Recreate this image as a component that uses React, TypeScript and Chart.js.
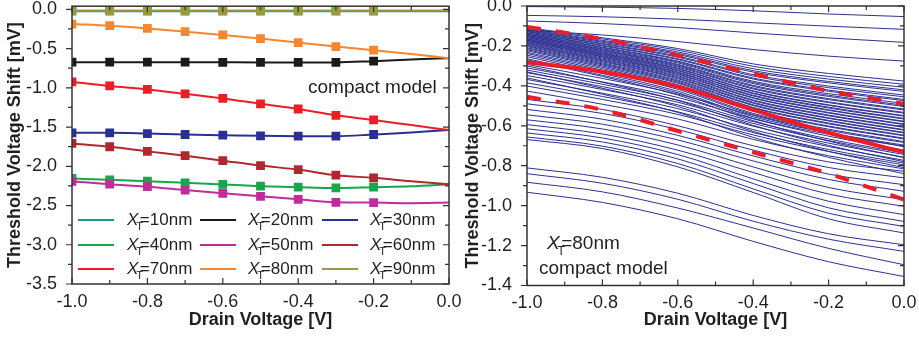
import React, { useEffect, useRef } from "react";
import { Chart, registerables } from "chart.js";
Chart.register(...registerables);

const FONT = '"Liberation Sans", Arial, Helvetica, sans-serif';
const INK = "#231f20";

// ---------- Left panel data ----------
const drainV = [-1.0, -0.9, -0.8, -0.7, -0.6, -0.5, -0.4, -0.3, -0.2, -0.1, 0.0];
const xt10 = [-0.023, -0.023, -0.023, -0.023, -0.023, -0.023, -0.023, -0.023, -0.023, -0.023, -0.023];
const xt20 = [-0.673, -0.673, -0.673, -0.674, -0.675, -0.676, -0.676, -0.676, -0.66, -0.64, -0.622];
const xt30 = [-1.574, -1.574, -1.583, -1.595, -1.603, -1.612, -1.616, -1.616, -1.595, -1.57, -1.536];
const xt40 = [-2.155, -2.172, -2.19, -2.21, -2.231, -2.253, -2.266, -2.276, -2.266, -2.255, -2.228];
const xt50 = [-2.193, -2.228, -2.26, -2.303, -2.345, -2.383, -2.421, -2.459, -2.463, -2.47, -2.463];
const xt60 = [-1.709, -1.751, -1.81, -1.865, -1.928, -1.991, -2.042, -2.114, -2.147, -2.19, -2.228];
const xt70 = [-0.925, -0.976, -1.021, -1.077, -1.135, -1.204, -1.27, -1.35, -1.41, -1.475, -1.538];
const xt80 = [-0.187, -0.209, -0.243, -0.284, -0.326, -0.373, -0.424, -0.474, -0.521, -0.57, -0.622];
const xt90 = [-0.015, -0.015, -0.015, -0.015, -0.015, -0.015, -0.015, -0.015, -0.015, -0.015, -0.015];
const leftSeries = [xt10, xt20, xt30, xt40, xt50, xt60, xt70, xt80, xt90];
const leftLegend = ["=10nm", "=20nm", "=30nm", "=40nm", "=50nm", "=60nm", "=70nm", "=80nm", "=90nm"];
const leftColors = ["#1f9b8e", "#1a1a1a", "#2b2f93", "#18a64b", "#c02c9c", "#b0282e", "#ee1c25", "#f7862e", "#9c9a3a"];

const leftXTicks = [-1.0, -0.8, -0.6, -0.4, -0.2, 0.0];
const leftXMinor = [-0.9, -0.7, -0.5, -0.3, -0.1];
const leftYTicks = [0.0, -0.5, -1.0, -1.5, -2.0, -2.5, -3.0, -3.5];
const leftYMinor = [-0.25, -0.75, -1.25, -1.75, -2.25, -2.75, -3.25];

// ---------- Right panel data ----------
const mcX = [-1.0, -0.8, -0.6, -0.4, -0.2, 0.0];
const mcRuns = [
  [-0.003, -0.006, -0.012, -0.024, -0.04, -0.053],
  [-0.047, -0.054, -0.066, -0.084, -0.101, -0.117],
  [-0.075, -0.088, -0.108, -0.135, -0.16, -0.182],
  [-0.122, -0.145, -0.178, -0.218, -0.251, -0.276],
  [-0.108, -0.159, -0.213, -0.29, -0.338, -0.376],
  [-0.112, -0.165, -0.221, -0.302, -0.353, -0.392],
  [-0.117, -0.172, -0.23, -0.314, -0.366, -0.407],
  [-0.12, -0.177, -0.237, -0.324, -0.378, -0.42],
  [-0.124, -0.182, -0.243, -0.331, -0.385, -0.428],
  [-0.127, -0.188, -0.251, -0.344, -0.401, -0.446],
  [-0.129, -0.191, -0.256, -0.351, -0.409, -0.455],
  [-0.134, -0.197, -0.264, -0.361, -0.421, -0.468],
  [-0.136, -0.2, -0.268, -0.366, -0.427, -0.474],
  [-0.14, -0.206, -0.276, -0.377, -0.439, -0.488],
  [-0.142, -0.209, -0.28, -0.383, -0.447, -0.497],
  [-0.146, -0.214, -0.285, -0.389, -0.453, -0.503],
  [-0.148, -0.218, -0.292, -0.398, -0.464, -0.516],
  [-0.152, -0.222, -0.296, -0.403, -0.469, -0.521],
  [-0.153, -0.225, -0.301, -0.411, -0.48, -0.533],
  [-0.158, -0.23, -0.306, -0.416, -0.484, -0.537],
  [-0.16, -0.234, -0.312, -0.425, -0.495, -0.549],
  [-0.164, -0.238, -0.315, -0.428, -0.498, -0.552],
  [-0.166, -0.241, -0.321, -0.436, -0.507, -0.563],
  [-0.17, -0.245, -0.324, -0.439, -0.511, -0.566],
  [-0.172, -0.249, -0.33, -0.447, -0.52, -0.577],
  [-0.176, -0.253, -0.334, -0.451, -0.523, -0.58],
  [-0.178, -0.256, -0.339, -0.459, -0.533, -0.591],
  [-0.183, -0.261, -0.343, -0.462, -0.536, -0.594],
  [-0.186, -0.266, -0.349, -0.471, -0.546, -0.605],
  [-0.191, -0.27, -0.354, -0.475, -0.55, -0.608],
  [-0.194, -0.275, -0.36, -0.483, -0.56, -0.619],
  [-0.199, -0.279, -0.364, -0.487, -0.563, -0.622],
  [-0.203, -0.285, -0.371, -0.495, -0.573, -0.633],
  [-0.209, -0.29, -0.376, -0.499, -0.576, -0.636],
  [-0.213, -0.295, -0.382, -0.508, -0.586, -0.647],
  [-0.219, -0.301, -0.387, -0.512, -0.59, -0.65],
  [-0.224, -0.307, -0.395, -0.522, -0.601, -0.662],
  [-0.232, -0.314, -0.401, -0.527, -0.605, -0.666],
  [-0.238, -0.322, -0.41, -0.538, -0.617, -0.679],
  [-0.246, -0.329, -0.417, -0.544, -0.623, -0.684],
  [-0.254, -0.338, -0.427, -0.555, -0.635, -0.697],
  [-0.264, -0.347, -0.435, -0.563, -0.642, -0.703],
  [-0.27, -0.353, -0.446, -0.574, -0.677, -0.76],
  [-0.293, -0.363, -0.441, -0.548, -0.634, -0.704],
  [-0.3, -0.382, -0.473, -0.598, -0.698, -0.78],
  [-0.31, -0.38, -0.458, -0.565, -0.652, -0.722],
  [-0.321, -0.392, -0.471, -0.579, -0.666, -0.737],
  [-0.33, -0.412, -0.503, -0.628, -0.728, -0.81],
  [-0.334, -0.404, -0.482, -0.588, -0.674, -0.744],
  [-0.348, -0.418, -0.495, -0.602, -0.687, -0.757],
  [-0.36, -0.442, -0.533, -0.658, -0.758, -0.84],
  [-0.368, -0.437, -0.514, -0.619, -0.704, -0.773],
  [-0.385, -0.453, -0.53, -0.634, -0.719, -0.787],
  [-0.401, -0.468, -0.543, -0.646, -0.729, -0.796],
  [-0.426, -0.492, -0.566, -0.668, -0.75, -0.816],
  [-0.468, -0.518, -0.6, -0.7, -0.781, -0.828],
  [-0.49, -0.538, -0.619, -0.722, -0.809, -0.861],
  [-0.518, -0.567, -0.648, -0.751, -0.842, -0.895],
  [-0.545, -0.592, -0.671, -0.776, -0.869, -0.928],
  [-0.57, -0.616, -0.696, -0.806, -0.909, -0.97],
  [-0.594, -0.641, -0.722, -0.834, -0.942, -1.003],
  [-0.615, -0.661, -0.744, -0.866, -0.978, -1.045],
  [-0.636, -0.681, -0.766, -0.889, -1.011, -1.079],
  [-0.656, -0.702, -0.789, -0.916, -1.038, -1.104],
  [-0.669, -0.714, -0.806, -0.934, -1.066, -1.137],
  [-0.811, -0.858, -0.938, -1.049, -1.141, -1.196],
  [-0.84, -0.888, -0.968, -1.078, -1.168, -1.229],
  [-0.883, -0.931, -1.012, -1.112, -1.214, -1.296],
  [-0.933, -0.984, -1.066, -1.179, -1.281, -1.355],
];
const mcMean = [-0.282, -0.329, -0.404, -0.52, -0.635, -0.732];
const mcUpper = [-0.105, -0.165, -0.248, -0.339, -0.426, -0.49];
const mcLower = [-0.455, -0.52, -0.626, -0.733, -0.84, -0.97];

const rightXTicks = [-1.0, -0.8, -0.6, -0.4, -0.2, 0.0];
const rightXMinor = [-0.9, -0.7, -0.5, -0.3, -0.1];
const rightYTicks = [0.0, -0.2, -0.4, -0.6, -0.8, -1.0, -1.2, -1.4];
const rightYMinor = [-0.1, -0.3, -0.5, -0.7, -0.9, -1.1, -1.3];

// ---------- helpers ----------
const fmt = (v: number) => (Math.abs(v) < 1e-9 ? "0.0" : v.toFixed(1));

function makeScales(opts: {
  yTicks: number[]; yMin: number; yMax: number; yWidth: number; xHeight: number;
  yTitlePad: number; xTicks: number[];
}) {
  return {
    x: {
      type: "linear",
      position: "bottom",
      min: -1,
      max: 0,
      grid: { display: false },
      border: { display: false },
      afterBuildTicks: (s: any) => { s.ticks = opts.xTicks.map((v) => ({ value: v })); },
      afterFit: (s: any) => {
        s.height = opts.xHeight;
        s.paddingLeft = 0; s.paddingRight = 0; s.paddingTop = 0; s.paddingBottom = 0;
      },
      ticks: { color: INK, font: { family: FONT, size: 18 }, padding: -1, maxRotation: 0, autoSkip: false,
        callback: (v: any) => fmt(Number(v)) },
      title: { display: true, text: "Drain Voltage [V]", color: INK,
        font: { family: FONT, size: 18, weight: "bold" }, padding: { top: 0, bottom: 9 } },
    },
    y: {
      type: "linear",
      position: "left",
      min: opts.yMin,
      max: opts.yMax,
      grid: { display: false },
      border: { display: false },
      afterBuildTicks: (s: any) => { s.ticks = opts.yTicks.map((v) => ({ value: v })); },
      afterFit: (s: any) => {
        s.width = opts.yWidth;
        s.paddingLeft = 0; s.paddingRight = 0; s.paddingTop = 0; s.paddingBottom = 0;
      },
      ticks: { color: INK, font: { family: FONT, size: 18 }, padding: 7, autoSkip: false,
        callback: (v: any) => fmt(Number(v)) },
      title: { display: true, text: "Threshold Voltage Shift [mV]", color: INK,
        font: { family: FONT, size: 18, weight: "bold" }, padding: { top: opts.yTitlePad, bottom: 0 } },
    },
  };
}

function framePlugin(xMajor: number[], xMinor: number[], yMajor: number[], yMinor: number[]) {
  return {
    id: "frameTicks",
    afterDraw(chart: any) {
      const { ctx, chartArea } = chart;
      const { left, right, top, bottom } = chartArea;
      const xs = chart.scales.x, ys = chart.scales.y;
      ctx.save();
      ctx.strokeStyle = "#333";
      ctx.lineWidth = 1.5;
      ctx.strokeRect(left, top, right - left, bottom - top);
      ctx.lineWidth = 1.2;
      ctx.beginPath();
      const xt = (v: number, len: number) => {
        const p = xs.getPixelForValue(v);
        ctx.moveTo(p, bottom); ctx.lineTo(p, bottom - len);
        ctx.moveTo(p, top); ctx.lineTo(p, top + len);
      };
      const yt = (v: number, len: number) => {
        const p = ys.getPixelForValue(v);
        ctx.moveTo(left, p); ctx.lineTo(left - len, p);
        ctx.moveTo(right, p); ctx.lineTo(right - len, p);
      };
      xMajor.forEach((v) => xt(v, 6));
      xMinor.forEach((v) => xt(v, 4));
      yMajor.forEach((v) => yt(v, 6));
      yMinor.forEach((v) => yt(v, 4));
      ctx.stroke();
      ctx.restore();
    },
  };
}

function drawXT(ctx: CanvasRenderingContext2D, x: number, y: number, rest: string, size: number) {
  ctx.textBaseline = "middle";
  ctx.textAlign = "left";
  ctx.font = `italic ${size}px ${FONT}`;
  ctx.fillText("X", x, y);
  const wX = ctx.measureText("X").width;
  ctx.font = `${Math.round(size * 0.62)}px ${FONT}`;
  ctx.fillText("T", x + wX * 0.82, y + size * 0.42);
  ctx.font = `${size}px ${FONT}`;
  ctx.fillText(rest, x + wX + 1.5, y);
}

function leftAnnot() {
  return {
    id: "leftAnnot",
    afterDraw(chart: any) {
      const ctx = chart.ctx as CanvasRenderingContext2D;
      ctx.save();
      ctx.fillStyle = INK;
      ctx.font = `19px ${FONT}`;
      ctx.textBaseline = "middle";
      ctx.textAlign = "left";
      ctx.fillText("compact model", 308, 88);
      const rowsY = [220, 245, 269];
      const lineX = [78, 200, 322];
      const textX = [127, 248, 370];
      leftLegend.forEach((lab, i) => {
        const r = Math.floor(i / 3), c = i % 3;
        ctx.strokeStyle = leftColors[i];
        ctx.lineWidth = 2.2;
        ctx.beginPath();
        ctx.moveTo(lineX[c], rowsY[r]);
        ctx.lineTo(lineX[c] + 36, rowsY[r]);
        ctx.stroke();
        ctx.fillStyle = INK;
        drawXT(ctx, textX[c], rowsY[r], lab, 17);
      });
      ctx.restore();
    },
  };
}

function rightAnnot() {
  return {
    id: "rightAnnot",
    afterDraw(chart: any) {
      const ctx = chart.ctx as CanvasRenderingContext2D;
      ctx.save();
      ctx.fillStyle = INK;
      drawXT(ctx, 85, 244, "=80nm", 19);
      ctx.font = `19px ${FONT}`;
      ctx.textBaseline = "middle";
      ctx.textAlign = "left";
      ctx.fillText("compact model", 77, 269);
      ctx.restore();
    },
  };
}

function LeftChart() {
  const ref = useRef<HTMLCanvasElement>(null);
  useEffect(() => {
    const datasets = leftSeries.map((arr, i) => ({
      data: drainV.map((x, j) => ({ x, y: arr[j] })),
      borderColor: leftColors[i],
      backgroundColor: leftColors[i],
      borderWidth: 2,
      pointStyle: "rect",
      pointRadius: drainV.map((x) => (x > -0.15 ? 0 : 6.2)),
      pointBorderWidth: 0,
      pointHoverRadius: 0,
      cubicInterpolationMode: "monotone",
      order: leftSeries.length - i,
    }));
    const chart = new Chart(ref.current as HTMLCanvasElement, {
      type: "line",
      data: { datasets } as any,
      options: {
        responsive: false,
        animation: false,
        layout: { padding: { top: 4.5, right: 21, left: 0, bottom: 0 } },
        plugins: { legend: { display: false }, tooltip: { enabled: false } },
        scales: makeScales({ yTicks: leftYTicks, yMin: -3.5, yMax: 0.04, yWidth: 72, xHeight: 56,
          yTitlePad: 4, xTicks: leftXTicks }) as any,
      },
      plugins: [framePlugin(leftXTicks, leftXMinor, leftYTicks, leftYMinor), leftAnnot()],
    });
    return () => chart.destroy();
  }, []);
  return <canvas ref={ref} width={470} height={340} style={{ position: "absolute", left: 0, top: 0, width: 470, height: 340 }} />;
}

function RightChart() {
  const ref = useRef<HTMLCanvasElement>(null);
  useEffect(() => {
    const blue = mcRuns.map((run) => ({
      data: mcX.map((x, j) => ({ x, y: run[j] })),
      borderColor: "#2e3192",
      borderWidth: 1,
      pointRadius: 0,
      cubicInterpolationMode: "monotone",
      order: 2,
    }));
    const red = (arr: number[], dash: number[]) => ({
      data: mcX.map((x, j) => ({ x, y: arr[j] })),
      borderColor: "#ee1c25",
      borderWidth: 4,
      borderDash: dash,
      pointRadius: 0,
      cubicInterpolationMode: "monotone",
      order: 1,
    });
    const chart = new Chart(ref.current as HTMLCanvasElement, {
      type: "line",
      data: { datasets: [red(mcMean, []), red(mcUpper, [14, 15]), red(mcLower, [14, 15]), ...blue] } as any,
      options: {
        responsive: false,
        animation: false,
        layout: { padding: { top: 6, right: 15, left: 0, bottom: 0 } },
        plugins: { legend: { display: false }, tooltip: { enabled: false } },
        scales: makeScales({ yTicks: rightYTicks, yMin: -1.4, yMax: 0, yWidth: 65, xHeight: 54.5,
          yTitlePad: 0, xTicks: rightXTicks }) as any,
      },
      plugins: [framePlugin(rightXTicks, rightXMinor, rightYTicks, rightYMinor), rightAnnot()],
    });
    return () => chart.destroy();
  }, []);
  return <canvas ref={ref} width={457} height={340} style={{ position: "absolute", left: 462, top: 0, width: 457, height: 340 }} />;
}

export default function App() {
  return (
    <div style={{ position: "fixed", left: 0, top: 0, width: 919, height: 340, background: "#fff", overflow: "hidden" }}>
      <LeftChart />
      <RightChart />
    </div>
  );
}
